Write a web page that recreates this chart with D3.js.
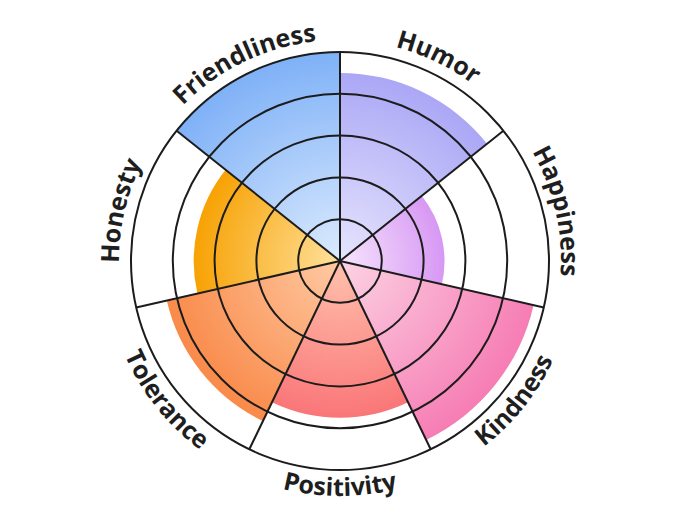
<!DOCTYPE html>
<html>
<head>
<meta charset="utf-8">
<script src="https://cdn.jsdelivr.net/npm/d3@7"></script>
<style>
  html, body { margin: 0; padding: 0; background: #ffffff; }
  svg { display: block; }
</style>
</head>
<body>
<svg id="chart" width="680" height="526"></svg>
<script>
const categories = ["Friendliness", "Humor", "Happiness", "Kindness", "Positivity", "Tolerance", "Honesty"];
const values = [100, 90, 50, 95, 75, 85, 70];
const innerColors = ["#dcebfe", "#e6e5fd", "#f6e6fc", "#fcd3e4", "#ffc2ad", "#ffcaa3", "#ffe19c"];
const outerColors = ["#7fb1f7", "#aba7f6", "#d798f4", "#f67db4", "#fa7678", "#f98a4a", "#f7a204"];
const gridTicks = [20, 40, 60, 80, 100];

const width = 680, height = 526;
const cx = 340, cy = 261;
const outerR = 209;

const svg = d3.select("#chart");
const g = svg.append("g").attr("transform", `translate(${cx},${cy})`);
const defs = svg.append("defs");

const r = d3.scaleLinear().domain([0, 100]).range([0, outerR]);
const step = 2 * Math.PI / categories.length;
const startOffset = -step; // Friendliness sector ends at the top
const angle = d3.scaleLinear().domain([0, categories.length]).range([startOffset, startOffset + 2 * Math.PI]);

// gradients
categories.forEach((c, i) => {
  const grad = defs.append("radialGradient")
    .attr("id", "grad" + i)
    .attr("gradientUnits", "userSpaceOnUse")
    .attr("cx", 0).attr("cy", 0).attr("r", r(values[i]));
  grad.append("stop").attr("offset", "0%").attr("stop-color", innerColors[i]);
  grad.append("stop").attr("offset", "100%").attr("stop-color", outerColors[i]);
});

const arc = d3.arc()
  .innerRadius(0)
  .outerRadius(d => r(d.value))
  .startAngle(d => angle(d.i))
  .endAngle(d => angle(d.i + 1));

const data = categories.map((c, i) => ({ c, i, value: values[i] }));

g.selectAll("path.sector")
  .data(data)
  .join("path")
  .attr("class", "sector")
  .attr("d", arc)
  .attr("fill", d => `url(#grad${d.i})`);

// grid circles
g.selectAll("circle.grid")
  .data(gridTicks)
  .join("circle")
  .attr("class", "grid")
  .attr("r", d => r(d))
  .attr("fill", "none")
  .attr("stroke", "#1c1c1c")
  .attr("stroke-width", 2);

// spokes
g.selectAll("line.spoke")
  .data(d3.range(categories.length))
  .join("line")
  .attr("class", "spoke")
  .attr("x1", 0).attr("y1", 0)
  .attr("x2", i => r(100) * Math.sin(angle(i)))
  .attr("y2", i => -r(100) * Math.cos(angle(i)))
  .attr("stroke", "#1c1c1c")
  .attr("stroke-width", 2);

// curved labels
const labelR = 221;
const flipR = 235;
const span = step / 2 + 0.3;
data.forEach(d => {
  const mid = angle(d.i + 0.5);
  let midNorm = ((mid % (2 * Math.PI)) + 2 * Math.PI) % (2 * Math.PI);
  const flip = midNorm > Math.PI * 0.6 && midNorm < Math.PI * 1.4;
  const p = d3.path();
  if (!flip) {
    const a0 = mid - span - Math.PI / 2, a1 = mid + span - Math.PI / 2;
    p.moveTo(labelR * Math.cos(a0), labelR * Math.sin(a0));
    p.arc(0, 0, labelR, a0, a1, false);
  } else {
    const a0 = mid + span - Math.PI / 2, a1 = mid - span - Math.PI / 2;
    p.moveTo(flipR * Math.cos(a0), flipR * Math.sin(a0));
    p.arc(0, 0, flipR, a0, a1, true);
  }
  defs.append("path").attr("id", "lp" + d.i).attr("d", p.toString())
    .attr("transform", `translate(${cx},${cy})`);
  svg.append("text")
    .attr("font-family", "'Open Sans', 'Noto Sans', sans-serif")
    .attr("font-weight", 700)
    .attr("font-size", 25)
    .attr("fill", "#1e1e1e")
    .append("textPath")
    .attr("href", "#lp" + d.i)
    .attr("startOffset", "50%")
    .attr("text-anchor", "middle")
    .text(d.c);
});
</script>
</body>
</html>
